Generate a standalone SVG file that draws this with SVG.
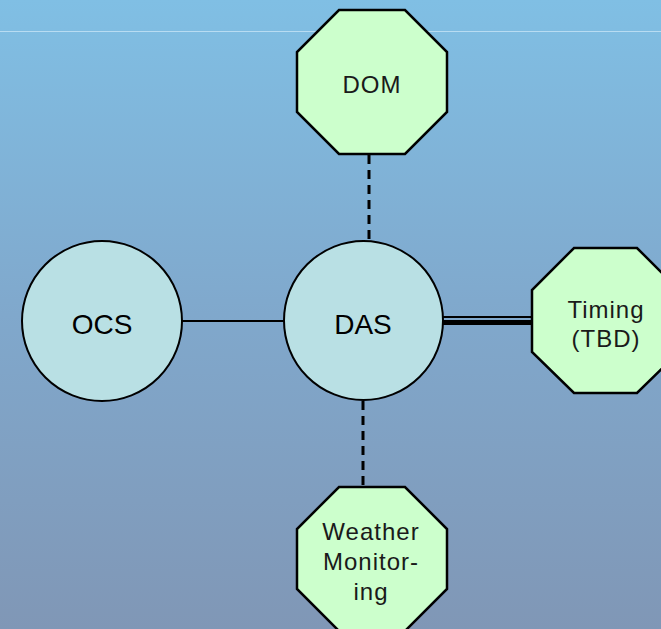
<svg xmlns="http://www.w3.org/2000/svg" width="661" height="629" viewBox="0 0 661 629">
<defs>
<linearGradient id="bg" x1="0" y1="0" x2="0" y2="1">
<stop offset="0" stop-color="#80bfe4"/>
<stop offset="0.5" stop-color="#80a8cc"/>
<stop offset="1" stop-color="#8097b6"/>
</linearGradient>
<style>
.circ{fill:#b9e0e4;stroke:#000;stroke-width:2}
.oct{fill:#ccffcc;stroke:#000;stroke-width:2.5;stroke-linejoin:miter}
.big{font-family:"Liberation Sans",Arial,sans-serif;font-size:28px;fill:#000;text-anchor:middle}
.small{font-family:"Liberation Sans",Arial,sans-serif;font-size:24px;letter-spacing:1px;fill:#1a1a1a;text-anchor:middle}
.solid{stroke:#000;stroke-width:2;fill:none}
.dash{stroke:#000;stroke-width:3;stroke-dasharray:9 6;fill:none}
</style>
</defs>
<rect width="661" height="629" fill="url(#bg)"/>
<line x1="0" y1="31.5" x2="661" y2="31.5" stroke="#b8dcf2" stroke-width="1"/>
<g id="connectors">
<line class="solid" x1="182" y1="321" x2="284" y2="321"/>
<line class="dash" x1="369" y1="155" x2="369" y2="241"/>
<line class="dash" x1="363" y1="401" x2="363" y2="487"/>
<line stroke="#000" stroke-width="2" x1="443" y1="317" x2="533" y2="317"/>
<line stroke="#000" stroke-width="5" x1="443" y1="322.5" x2="533" y2="322.5"/>
</g>
<g id="OCS">
<circle class="circ" cx="102" cy="321" r="80"/>
<text class="big" x="102" y="334">OCS</text>
</g>
<g id="DAS">
<circle class="circ" cx="363.5" cy="320.5" r="79.5"/>
<text class="big" x="363" y="334">DAS</text>
</g>
<g id="DOM">
<polygon class="oct" points="339,10 405,10 447,52 447,112 405,154 339,154 297,112 297,52"/>
<text class="small" x="372" y="93">DOM</text>
</g>
<g id="Timing">
<polygon class="oct" points="574,248 637,248 679,290 679,352 637,393 574,393 532,352 532,290"/>
<text class="small" x="606" y="318">Timing</text>
<text class="small" x="606" y="347">(TBD)</text>
</g>
<g id="Weather">
<polygon class="oct" points="339,487 405,487 447,529 447,589 405,631 339,631 297,589 297,529"/>
<text class="small" x="371" y="540">Weather</text>
<text class="small" x="371" y="570">Monitor-</text>
<text class="small" x="371" y="600">ing</text>
</g>
</svg>
